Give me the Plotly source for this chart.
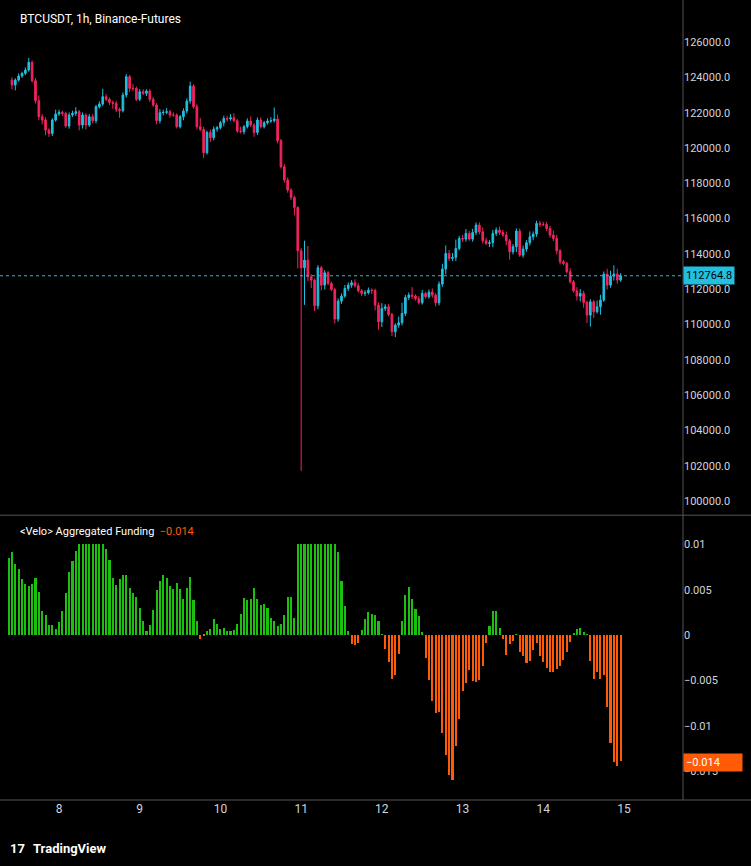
import pandas as pd
import plotly.graph_objects as go
from plotly.subplots import make_subplots

close = [123565,123848,124074,124225,124414,124848,123810,122677,121771,121582,
121016,120827,121582,121922,122016,121960,121242,121865,121960,122054,
121299,121865,121299,121771,121545,122337,122488,122904,122753,122583,
122526,122186,122111,122998,124037,123376,123376,122753,123187,123093,
123225,122753,122432,121545,121998,122016,122054,121865,121865,121205,
121771,122092,122658,123508,122337,121205,121054,119732,120884,120581,
121073,121148,121431,121677,121639,121715,121545,120959,120922,121205,
121526,121299,120884,121582,121205,121431,121526,121545,121639,120411,
118939,118184,117618,117202,116636,114181,113218,113653,112709,112520,
111066,113218,112237,112935,112331,111991,110311,111331,111614,112048,
112237,112369,112199,111916,111765,111802,111953,111935,111104,110160,
110915,111010,110575,109594,109971,110104,110632,111538,111670,111613,
111463,111236,111765,111576,111840,111670,111236,112293,113143,114030,
113747,113804,114313,114880,114842,115163,114842,115220,115635,115257,
114748,114597,114634,115163,115352,115220,115069,114748,114125,114408,
115295,113936,114276,114634,114974,115125,115729,115673,115673,115446,
115069,114880,114181,113558,113464,112992,112425,111916,111614,111765,
111255,110538,111293,110727,111010,111387,112859,112237,112746,112859,
112520,112765]
first_open = 123848
upper_wick = [150,100,150,100,150,250,100,150,300,150,150,100,100,250,150,100,100,150,150,250,
100,150,100,150,150,100,150,450,150,100,100,150,100,150,150,100,250,100,150,150,
100,100,150,100,200,150,200,100,150,100,100,150,150,250,100,150,500,150,100,150,
150,100,100,150,150,200,250,100,250,100,150,250,100,150,150,100,150,200,650,250,
100,150,150,100,100,50,150,1100,800,150,100,150,100,150,100,100,100,150,150,200,
150,150,200,150,100,150,150,100,100,150,300,150,150,100,100,350,600,150,150,450,
100,150,200,100,150,200,100,150,300,450,200,250,500,150,200,250,150,200,150,150,
250,150,150,200,150,200,150,200,100,150,150,150,200,150,300,150,150,150,150,150,
150,250,200,100,100,100,200,100,200,250,150,100,150,100,350,300,150,300,300,500,
300,150]
lower_wick = [250,300,100,100,100,100,100,150,200,250,300,200,150,100,100,150,100,150,100,150,
300,200,250,100,150,150,100,100,100,150,300,150,400,100,150,200,150,100,100,100,
150,150,100,200,150,150,100,150,100,100,100,200,150,150,100,150,100,300,100,250,
150,150,100,200,150,100,100,100,100,150,100,100,250,150,100,100,100,100,100,150,
100,150,150,150,450,1000,11500,2100,250,450,300,200,300,250,100,100,250,150,150,100,
150,150,100,100,150,150,100,200,300,450,300,150,100,250,300,150,150,150,150,150,
100,100,100,100,100,150,200,150,150,300,150,150,200,100,150,150,100,150,150,150,
150,100,200,250,150,150,100,250,450,150,300,100,150,150,150,200,150,150,100,150,
150,150,200,150,100,100,100,100,250,300,300,450,650,350,100,450,100,250,150,250,
200,100]
funding = [.0085,.0091,.0078,.0072,.0061,.0056,.0054,.0056,.0063,.0047,
.0026,.0022,.0011,.0011,.0007,.0014,.0026,.0046,.0069,.0081,
.0092,.01,.01,.01,.01,.01,.01,.01,.01,.0095,
.0082,.0063,.0055,.0061,.0066,.0066,.0052,.0046,.0042,.003,
.0015,.0004,.0011,.0027,.0049,.0059,.0066,.0063,.0054,.005,
.0057,.005,.004,.0052,.0064,.0038,.0015,-.0004,-.0001,.0004,
.0007,.0017,.0012,.0007,.0008,.0004,.0004,.0005,.0012,.0023,
.0041,.0038,.0039,.0052,.004,.0033,.0034,.003,.0019,.0015,
.001,.0012,.0022,.0042,.0042,.0019,.01,.01,.01,.01,
.01,.01,.01,.01,.01,.01,.01,.01,.0091,
.0059,.0032,.0004,-.001,-.0011,-.0009,.0005,.0018,.0025,.0023,
.0022,.0015,.0001,-.0015,-.003,-.0048,-.0044,-.0021,.0015,.0044,
.0053,.0039,.0029,.0021,.0003,-.0025,-.005,-.0073,-.0086,-.0085,
-.0108,-.0132,-.0154,-.0159,-.0122,-.0092,-.0062,-.0053,-.0039,-.0051,
-.0052,-.005,-.0034,-.0009,.001,.0026,.0026,.0008,-.0005,-.0022,
-.001,-.0007,.0001,-.0019,-.0023,-.0031,-.0029,-.0017,-.0009,-.0023,
-.003,-.0036,-.0041,-.0041,-.0038,-.0034,-.0028,-.0019,-.0008,.0002,
.0007,.0008,.0003,.00005,-.0029,-.0048,-.0041,-.0048,-.0044,-.0079,
-.0119,-.014,-.0144,-.0139]
day_labels = ["8","9","10","11","12","13","14","15"]
price_ticks = list(range(100000, 126001, 2000))
fund_ticks = [0.01, 0.005, 0, -0.005, -0.01, -0.015]
fund_tick_text = ["0.01", "0.005", "0", "\u22120.005", "\u22120.01", "\u22120.015"]
last_price = 112764.8
last_funding = -0.014

n = len(close)
times = pd.date_range("2025-10-07 10:00", periods=n, freq="h")
opens = [first_open] + close[:-1]
highs = [max(o, c) + u for o, c, u in zip(opens, close, upper_wick)]
lows = [min(o, c) - d for o, c, d in zip(opens, close, lower_wick)]
ftimes = pd.date_range(end=times[-1], periods=len(funding), freq="h")

UP, DN = "#22bfe0", "#f2245f"
GR, OR = "#1cc10f", "#ff5a05"
TXT = "#d1d4dc"
FONT = "Roboto"

fig = make_subplots(rows=2, cols=1, shared_xaxes=True, vertical_spacing=0,
                    row_heights=[0.644, 0.356])
fig.add_trace(go.Candlestick(x=times, open=opens, high=highs, low=lows, close=close,
    increasing=dict(line=dict(color=UP, width=1), fillcolor=UP),
    decreasing=dict(line=dict(color=DN, width=1), fillcolor=DN),
    whiskerwidth=0, showlegend=False, hoverinfo="skip"), row=1, col=1)
fig.add_trace(go.Bar(x=ftimes, y=funding, width=0.62*3600000,
    marker=dict(color=[GR if v >= 0 else OR for v in funding], line=dict(width=0)),
    showlegend=False), row=2, col=1)

xr = [pd.Timestamp("2025-10-07 06:27"), pd.Timestamp("2025-10-15 17:33")]
tickdates = pd.date_range("2025-10-08", periods=8, freq="D")
for r in (1, 2):
    fig.update_xaxes(range=xr, showgrid=False, zeroline=False, showline=False,
                     rangeslider_visible=False, row=r, col=1)
fig.update_xaxes(tickvals=tickdates, ticktext=day_labels, ticks="",
                 tickfont=dict(color=TXT, size=12, family=FONT), showticklabels=True, row=2, col=1)
fig.update_xaxes(showticklabels=False, row=1, col=1)
fig.update_yaxes(side="right", range=[99209, 128379], tickvals=price_ticks,
                 ticktext=[f"{v:.1f}" for v in price_ticks], showgrid=False, zeroline=False,
                 tickfont=dict(color=TXT, size=11, family=FONT), ticks="", row=1, col=1)
fig.update_yaxes(side="right", range=[-0.01813, 0.01319], tickvals=fund_ticks,
                 ticktext=fund_tick_text, showgrid=False, zeroline=False,
                 tickfont=dict(color=TXT, size=11, family=FONT), ticks="", row=2, col=1)

shapes = [
    dict(type="line", xref="paper", yref="y", x0=0, x1=1, y0=last_price, y1=last_price,
         line=dict(color=UP, width=1, dash="dot")),
    dict(type="line", xref="paper", yref="paper", x0=1, x1=1, y0=0, y1=1.0,
         line=dict(color="#555", width=1)),
    dict(type="line", xref="paper", yref="paper", x0=0, x1=1.1, y0=0.356, y1=0.356,
         line=dict(color="#555", width=1)),
    dict(type="line", xref="paper", yref="paper", x0=0, x1=1.1, y0=0, y1=0,
         line=dict(color="#555", width=1)),
]
fig.update_layout(shapes=shapes)

ann = [
    dict(text="BTCUSDT, 1h, Binance-Futures", xref="paper", yref="paper", x=0.026, y=0.976,
         xanchor="left", yanchor="middle", showarrow=False, font=dict(color="#ffffff", size=12, family=FONT)),
    dict(text="&lt;Velo&gt; Aggregated Funding  <span style='color:%s'>%s</span>" % (OR, "\u22120.014"),
         xref="paper", yref="paper", x=0.026, y=0.336, xanchor="left", yanchor="middle",
         showarrow=False, font=dict(color="#ffffff", size=11, family=FONT)),
    dict(text="112764.8", xref="paper", yref="y", x=1.0, y=last_price, xanchor="left",
         yanchor="middle", showarrow=False, bgcolor=UP, font=dict(color="#000000", size=11, family=FONT),
         borderpad=2),
    dict(text="\u22120.014", xref="paper", yref="y2", x=1.0, y=last_funding, xanchor="left",
         yanchor="middle", showarrow=False, bgcolor=OR, font=dict(color="#ffffff", size=11, family=FONT),
         borderpad=2, width=54, align="left"),
    dict(text="<b>TradingView</b>", xref="paper", yref="paper", x=0.045, y=-0.06,
         xanchor="left", yanchor="middle", showarrow=False, font=dict(color="#ffffff", size=13, family=FONT)),
    dict(text="<b>17</b>", xref="paper", yref="paper", x=0.012, y=-0.06,
         xanchor="left", yanchor="middle", showarrow=False, font=dict(color="#ffffff", size=13, family=FONT)),
]
fig.update_layout(annotations=ann, width=751, height=866,
                  margin=dict(l=0, r=68, t=0, b=66),
                  paper_bgcolor="#000000", plot_bgcolor="#000000", bargap=0,
                  font=dict(family=FONT, color=TXT))
fig.write_html("out.html", config={"displayModeBar": False},
               post_script="document.body.style.margin='0';document.body.style.background='#000';")
